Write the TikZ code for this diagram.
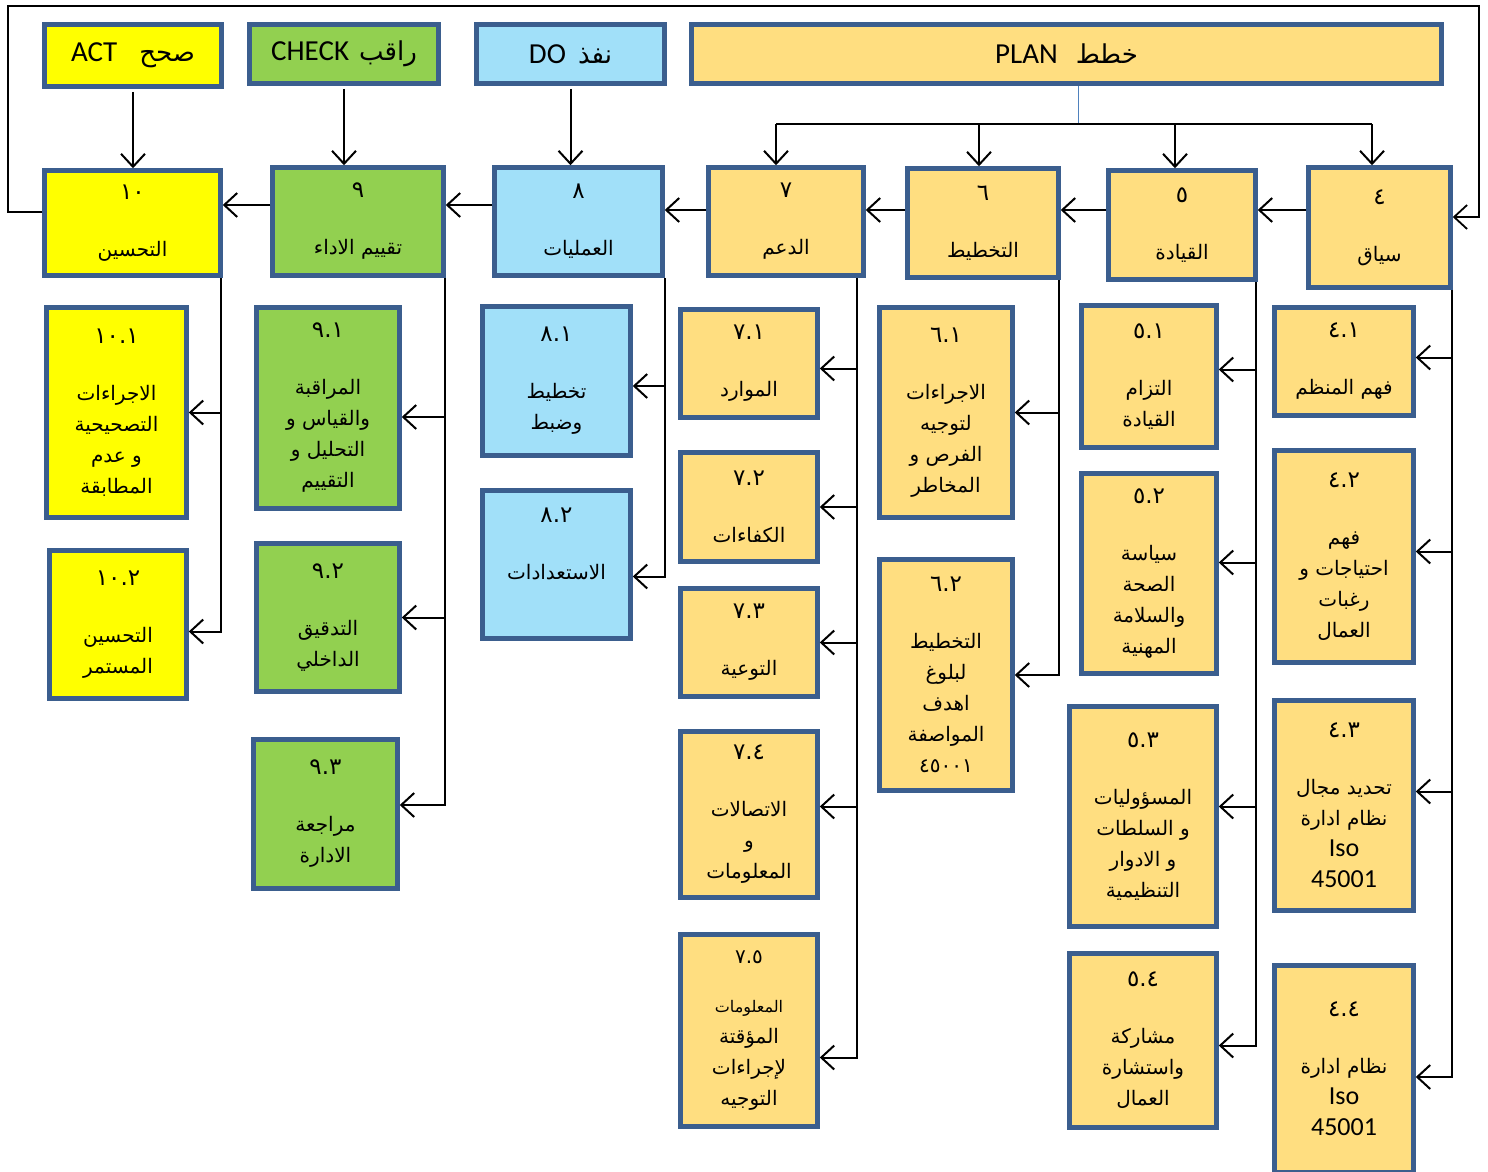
\documentclass[tikz,border=0pt]{standalone}
\usepackage{fontspec}
\setmainfont{Carlito}
\newfontfamily\arabicfont[Script=Arabic]{DejaVu Sans}
\newfontfamily\latinfont{Carlito}
\TeXXeTstate=1
\usetikzlibrary{arrows.meta}

\definecolor{edgeblue}{HTML}{3B5E8E}
\definecolor{actyellow}{HTML}{FFFF00}
\definecolor{checkgreen}{HTML}{92D050}
\definecolor{doblue}{HTML}{A1E0F9}
\definecolor{planorange}{HTML}{FFDE80}
\definecolor{linkblue}{HTML}{4F81BD}

\newcommand{\artext}[1]{\beginR #1\endR}
\newcommand{\hw}[1]{{\arabicfont\fontsize{26}{30}\selectfont #1}}
\newcommand{\nm}[1]{{\fontsize{23}{31}\selectfont #1}}
\newcommand{\isotxt}[1]{{\latinfont\fontsize{26}{31}\selectfont #1}}
\newcommand{\smalltxt}[1]{{\fontsize{16}{31}\selectfont #1}}

\tikzset{
  isobox/.style={draw=edgeblue, line width=4.5pt, fill=#1, align=center, inner sep=1pt,
    font=\arabicfont\fontsize{20}{31}\selectfont},
  head/.style={isobox=#1, font=\latinfont\fontsize{29}{32}\selectfont},
  wh/.style 2 args={minimum width=#1, minimum height=#2},
  arr/.style={->, line width=2pt},
  spine/.style={line width=1.8pt}
}

\begin{document}
\begin{tikzpicture}[x=1pt, y=-1pt, >={Straight Barb[length=13pt,width=24pt]}]
\useasboundingbox (0,0) rectangle (1488,1172);
\fill[white] (0,0) rectangle (1488,1172);

\node[head=actyellow, wh={177}{62}] (act) at (133,55.5) {ACT\hspace{22pt}\hw{صحح}};
\node[head=checkgreen, wh={189}{59}] (chk) at (344,54) {CHECK\hspace{10pt}\hw{راقب}};
\node[head=doblue, wh={188}{59}] (do) at (570.5,54) {DO\hspace{12pt}\hw{نفذ}};
\node[head=planorange, wh={750}{59}] (plan) at (1066.5,54) {PLAN\hspace{18pt}\hw{خطط}};

\node[isobox=actyellow, wh={176}{105}] (b10) at (132.5,223) {\nm{١٠}\\[26pt]التحسين};
\node[isobox=checkgreen, wh={171}{108}] (b9) at (358,221.5) {\nm{٩}\\[26pt]\artext{تقييم الاداء}};
\node[isobox=doblue, wh={168}{108}] (b8) at (578.5,221.5) {\nm{٨}\\[26pt]العمليات};
\node[isobox=planorange, wh={155}{108}] (b7) at (786,221.5) {\nm{٧}\\[26pt]الدعم};
\node[isobox=planorange, wh={151}{109}] (b6) at (983,223) {\nm{٦}\\[26pt]التخطيط};
\node[isobox=planorange, wh={147}{109}] (b5) at (1182,225) {\nm{٥}\\[26pt]القيادة};
\node[isobox=planorange, wh={142}{120}] (b4) at (1379.5,227.5) {\nm{٤}\\[26pt]سياق};

\node[isobox=actyellow, wh={140}{210}] (b101) at (116.5,412.5) {\nm{١٠.١}\\[26pt]الاجراءات\\التصحيحية\\\artext{و عدم}\\المطابقة};
\node[isobox=actyellow, wh={137}{148}] (b102) at (118,624.5) {\nm{١٠.٢}\\[26pt]التحسين\\المستمر};

\node[isobox=checkgreen, wh={143}{201}] (b91) at (328,408) {\nm{٩.١}\\[26pt]المراقبة\\\artext{والقياس و}\\\artext{التحليل و}\\التقييم};
\node[isobox=checkgreen, wh={143}{148}] (b92) at (328,617.5) {\nm{٩.٢}\\[26pt]التدقيق\\الداخلي};
\node[isobox=checkgreen, wh={144}{149}] (b93) at (325.5,814) {\nm{٩.٣}\\[26pt]مراجعة\\الادارة};

\node[isobox=doblue, wh={148}{149}] (b81) at (556.5,381) {\nm{٨.١}\\[26pt]تخطيط\\وضبط};
\node[isobox=doblue, wh={148}{148}] (b82) at (556.5,564.5) {\nm{٨.٢}\\[26pt]الاستعدادات\\[10pt]};

\node[isobox=planorange, wh={137}{108}] (b71) at (749,363.5) {\nm{٧.١}\\[26pt]الموارد};
\node[isobox=planorange, wh={137}{109}] (b72) at (749,507) {\nm{٧.٢}\\[26pt]الكفاءات};
\node[isobox=planorange, wh={137}{108}] (b73) at (749,642.5) {\nm{٧.٣}\\[26pt]التوعية};
\node[isobox=planorange, wh={137}{166}] (b74) at (749,814.5) {\nm{٧.٤}\\[26pt]الاتصالات\\و\\المعلومات};
\node[isobox=planorange, wh={137}{192}] (b75) at (749,1030.5) {٧.٥\\[18pt]\smalltxt{المعلومات}\\المؤقتة\\لإجراءات\\التوجيه};

\node[isobox=planorange, wh={133}{210}] (b61) at (946,412.5) {\nm{٦.١}\\[26pt]الاجراءات\\لتوجيه\\\artext{الفرص و}\\المخاطر};
\node[isobox=planorange, wh={133}{231}] (b62) at (946,675) {\nm{٦.٢}\\[26pt]التخطيط\\لبلوغ\\اهدف\\المواصفة\\٤٥٠٠١};

\node[isobox=planorange, wh={135}{142}] (b51) at (1149,376.5) {\nm{٥.١}\\[26pt]التزام\\القيادة};
\node[isobox=planorange, wh={135}{200}] (b52) at (1149,573.5) {\nm{٥.٢}\\[26pt]سياسة\\الصحة\\والسلامة\\المهنية};
\node[isobox=planorange, wh={147}{220}] (b53) at (1143,816.5) {\nm{٥.٣}\\[26pt]المسؤوليات\\\artext{و السلطات}\\\artext{و الادوار}\\التنظيمية};
\node[isobox=planorange, wh={147}{174}] (b54) at (1143,1040.5) {\nm{٥.٤}\\[26pt]مشاركة\\واستشارة\\العمال};

\node[isobox=planorange, wh={139}{108}] (b41) at (1344,361.5) {\nm{٤.١}\\[26pt]\artext{فهم المنظم}};
\node[isobox=planorange, wh={139}{212}] (b42) at (1344,556.5) {\nm{٤.٢}\\[26pt]فهم\\\artext{احتياجات و}\\رغبات\\العمال};
\node[isobox=planorange, wh={139}{210}] (b43) at (1344,805.5) {\nm{٤.٣}\\[26pt]\artext{تحديد مجال}\\\artext{نظام ادارة}\\\isotxt{Iso}\\\isotxt{45001}};
\node[isobox=planorange, wh={139}{207}] (b44) at (1344,1069) {\nm{٤.٤}\\[26pt]\artext{نظام ادارة}\\\isotxt{Iso}\\\isotxt{45001}};

\coordinate (s10) at (221,278);
\coordinate (s9) at (445,278);
\coordinate (s8) at (665,278);
\coordinate (s7) at (857,278);
\coordinate (s6) at (1059,280);
\coordinate (s5) at (1256,282);
\coordinate (s4) at (1452,290);
\coordinate (pj) at (1078,124);
\coordinate (t7) at (776,124);
\coordinate (t6) at (979,124);
\coordinate (t5) at (1175,124);
\coordinate (t4) at (1372,124);
\coordinate (lc) at (8,6);
\coordinate (rc) at (1479,6);

\draw[arr, shorten <=3pt] (act.south) -- (act.south |- b10.north);
\draw[arr, shorten <=3pt] (chk.south) -- (chk.south |- b9.north);
\draw[arr, shorten <=3pt] (do.south) -- (do.south |- b8.north);
\draw[linkblue, line width=1pt] ([xshift=11.5pt]plan.south) -- (pj);
\draw[spine] (t7) -- (t4);
\draw[arr] (t7) -- (t7 |- b7.north);
\draw[arr] (t6) -- (t6 |- b6.north);
\draw[arr] (t5) -- (t5 |- b5.north);
\draw[arr] (t4) -- (t4 |- b4.north);

\draw[arr] ([yshift=17.5pt]b4.west) -- ([yshift=17.5pt]b4.west -| b5.east);
\draw[arr] ([yshift=15pt]b5.west) -- ([yshift=15pt]b5.west -| b6.east);
\draw[arr] ([yshift=13pt]b6.west) -- ([yshift=13pt]b6.west -| b7.east);
\draw[arr] ([yshift=11.5pt]b7.west) -- ([yshift=11.5pt]b7.west -| b8.east);
\draw[arr] ([yshift=16.5pt]b8.west) -- ([yshift=16.5pt]b8.west -| b9.east);
\draw[arr] ([yshift=16.5pt]b9.west) -- ([yshift=16.5pt]b9.west -| b10.east);

\draw[arr, spine] ([yshift=11pt]b10.west) -| (lc) -- (rc) |- ([yshift=10.5pt]b4.east);

\draw[arr] (s10) |- (b101.east);
\draw[arr] (s10) |- ([yshift=-7pt]b102.east);
\draw[arr] (s9) |- ([yshift=-9pt]b91.east);
\draw[arr] (s9) |- (b92.east);
\draw[arr] (s9) |- ([yshift=9pt]b93.east);
\draw[arr] (s8) |- ([yshift=-5pt]b81.east);
\draw[arr] (s8) |- ([yshift=-12pt]b82.east);
\draw[arr] (s7) |- ([yshift=-5pt]b71.east);
\draw[arr] (s7) |- (b72.east);
\draw[arr] (s7) |- (b73.east);
\draw[arr] (s7) |- ([yshift=8pt]b74.east);
\draw[arr] (s7) |- ([yshift=-27pt]b75.east);
\draw[arr] (s6) |- (b61.east);
\draw[arr] (s6) |- (b62.east);
\draw[arr] (s5) |- ([yshift=7pt]b51.east);
\draw[arr] (s5) |- ([yshift=11pt]b52.east);
\draw[arr] (s5) |- ([yshift=10pt]b53.east);
\draw[arr] (s5) |- ([yshift=-5pt]b54.east);
\draw[arr] (s4) |- ([yshift=4pt]b41.east);
\draw[arr] (s4) |- ([yshift=5pt]b42.east);
\draw[arr] (s4) |- ([yshift=14pt]b43.east);
\draw[arr] (s4) |- ([yshift=-8pt]b44.east);
\end{tikzpicture}
\end{document}
